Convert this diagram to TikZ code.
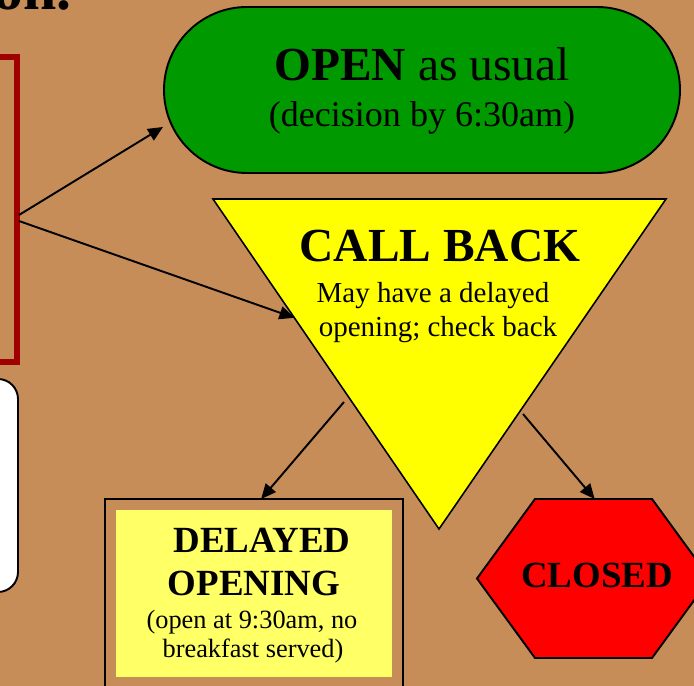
\documentclass[tikz,border=0pt]{standalone}
\usepackage{fontspec}
\setmainfont{Liberation Serif}
\usetikzlibrary{arrows.meta, calc}

\definecolor{bgtan}{HTML}{C68D59}
\definecolor{darkred}{HTML}{A00000}
\definecolor{opengreen}{HTML}{009900}
\definecolor{callyellow}{HTML}{FFFF00}
\definecolor{paleyellow}{HTML}{FFFF66}
\definecolor{closedred}{HTML}{FF0000}

\tikzset{
    arr/.style={line width=1.1pt, -{Triangle[length=8.5pt, width=7.5pt]}},
    bighead/.style={anchor=base, inner sep=0pt, font=\bfseries\fontsize{27}{27}\selectfont},
    midhead/.style={anchor=base, inner sep=0pt, font=\bfseries\fontsize{21}{21}\selectfont},
    smalltext/.style={anchor=base, inner sep=0pt, font=\fontsize{#1}{#1}\selectfont}
}

\begin{document}
\begin{tikzpicture}[x=0.02cm, y=-0.02cm]
    \useasboundingbox[fill=bgtan] (0,0) rectangle (694,686);
    \clip (0,0) rectangle (694,686);

    % Title (cut off at the top)
    \node[anchor=base east, inner sep=0pt, font=\bfseries\fontsize{34}{34}\selectfont] (title) at (72,10) {ion.};

    % Left panels (cut off at the left)
    \draw[line width=3.4pt, darkred] (-40,57) rectangle (17,362);
    \draw[line width=1.1pt, fill=white, rounded corners=0.4cm] (-40,379) rectangle (18,592);

    % OPEN
    \draw[line width=1.1pt, fill=opengreen, rounded corners=1.66cm] (164,7) rectangle (680,173);
    \node[anchor=base, inner sep=0pt, font=\fontsize{27}{27}\selectfont] (openA) at (422,81) {\textbf{OPEN} as usual};
    \node[smalltext=20.5] (openB) at (422,127) {(decision by 6:30am)};

    % CALL BACK
    \coordinate (tl) at (213,199);
    \coordinate (tr) at (666,199);
    \coordinate (tb) at (439,529);
    \draw[line width=0.9pt, fill=callyellow] (tl) -- (tr) -- (tb) -- cycle;
    \node[bighead] (cbA) at (440,262) {CALL BACK};
    \node[smalltext=16.5] (cbB) at (433,302) {May have a delayed};
    \node[smalltext=16.5] (cbC) at (438,337) {opening; check back};

    % DELAYED OPENING
    \coordinate (dlyTL) at (105,499);
    \coordinate (dlyTR) at (403,499);
    \draw[line width=1.7pt] (dlyTL) -- (dlyTR) -- (403,700) -- (105,700) -- cycle;
    \fill[paleyellow] (116,510) rectangle (392,677);
    \node[midhead] (dlyA) at (262,552) {DELAYED};
    \node[midhead] (dlyB) at (254,595) {OPENING};
    \node[smalltext=15] (dlyC) at (252,628) {(open at 9:30am, no};
    \node[smalltext=15] (dlyD) at (253,657) {breakfast served)};

    % CLOSED
    \coordinate (clTL) at (535,499);
    \coordinate (clTR) at (652,499);
    \draw[line width=1.1pt, fill=closedred] (477,578.5) -- (clTL) -- (clTR) -- (710,578.5) -- (652,658) -- (535,658) -- cycle;
    \node[midhead] (closed) at (597,587) {CLOSED};

    % Arrows
    \coordinate (forkA) at (19,215);
    \coordinate (forkB) at (19,221);
    \coordinate (opentip) at (163,127);
    \coordinate (cbL) at (344,402);
    \coordinate (cbR) at (523,414);
    \draw[arr] (forkA) -- (opentip);
    \draw[arr] (forkB) -- ($(tl)!0.36!(tb)$);
    \draw[arr] (cbL) -- ($(dlyTL)!0.524!(dlyTR)$);
    \draw[arr] (cbR) -- ($(clTL)!0.51!(clTR)$);
\end{tikzpicture}
\end{document}
